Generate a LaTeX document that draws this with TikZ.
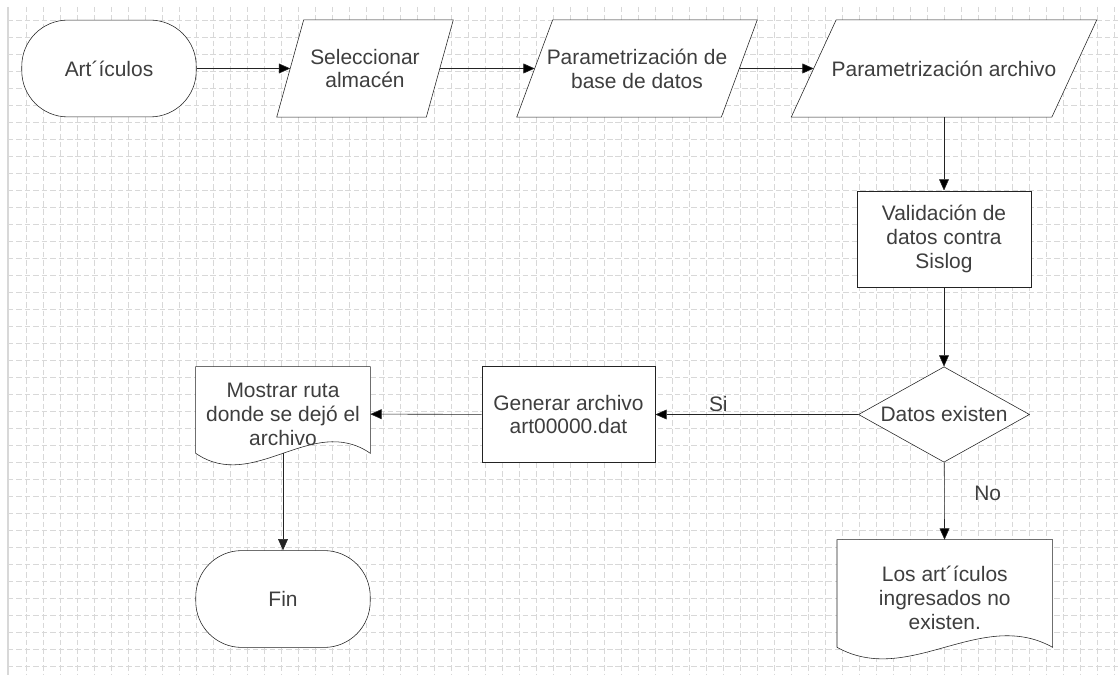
\documentclass[tikz,border=0pt]{standalone}
\usepackage{fontspec}
\setmainfont{Liberation Sans}
\usetikzlibrary{arrows.meta,shapes.geometric,calc}

\definecolor{gridgray}{RGB}{216,216,216}
\definecolor{inkgray}{RGB}{35,35,35}
\definecolor{textgray}{RGB}{62,62,62}

\pgfdeclarelayer{paper}
\pgfdeclarelayer{back}
\pgfsetlayers{paper,back,main}

% slanted outline behind an input/output node
\newcommand{\ioframe}[2]{%
  \begin{pgfonlayer}{back}
  \draw[shapeline] ([shift={(-#2,0)}]#1.south west) -- ([shift={(#2,0)}]#1.north west)
    -- ([shift={(#2,0)}]#1.north east) -- ([shift={(-#2,0)}]#1.south east) -- cycle;
  \end{pgfonlayer}}
% document outline with wavy bottom
\newcommand{\docframe}[1]{%
  \begin{pgfonlayer}{back}
  \draw[shapeline] (#1.north west) -- (#1.north east) -- ([shift={(0,-8)}]#1.south east)
    .. controls ($(#1.south east)!.333!(#1.south west)+(0,-48)$)
    and ($(#1.south east)!.667!(#1.south west)+(0,32)$) .. ([shift={(0,-8)}]#1.south west)
    -- cycle;
  \end{pgfonlayer}}

\begin{document}
\begin{tikzpicture}[x=0.025cm,y=-0.025cm,>={Triangle[length=8pt,width=7pt]},
        line width=1.15pt,
        every node/.style={font=\fontsize{14.9}{17}\selectfont,text=textgray},
        terminal/.style={draw=inkgray,fill=white,rounded corners=1.15cm,
          minimum width=4.36cm,minimum height=2.42cm,inner sep=0pt},
        iobox/.style={minimum height=2.42cm,inner sep=0pt,align=center},
        process/.style={draw=inkgray,fill=white,minimum width=4.35cm,
          minimum height=2.41cm,inner sep=0pt,align=center},
        decision/.style={diamond,draw=inkgray,fill=white,aspect=1.79,
          minimum width=4.275cm,minimum height=2.385cm,inner sep=0pt},
        docbox/.style={inner sep=0pt,align=center},
        shapeline/.style={draw=inkgray,fill=white},
        flow/.style={->,draw=inkgray},
        edgelabel/.style={inner sep=1.5pt},
        gridline/.style={draw=gridgray,line width=0.6pt,dash pattern=on 3.9pt off 2.1pt}]
        \useasboundingbox (0,0) rectangle (1118,675);
        \begin{pgfonlayer}{paper}
        \fill[white] (0,0) rectangle (1118,675);
        \foreach \gx in {26,43,...,1118}
          \draw[gridline] (\gx,7) -- (\gx,675);
        \foreach \gy in {20,37,...,675}
          \draw[gridline] (8,\gy) -- (1118,\gy);
        \draw[gridgray,line width=0.8pt] (8,7) -- (8,675);
        \end{pgfonlayer}

        % top row
        \node[terminal] (art) at (109,68.5) {Art´ículos};
        \node[iobox, minimum width=3.725cm] (sel) at (365,68.5) {Seleccionar\\almacén};
        \node[iobox, minimum width=5.1cm] (pbd) at (637,68.5) {Parametrización de\\base de datos};
        \node[iobox, minimum width=6.5cm] (par) at (944,68.5) {Parametrización archivo};
        \ioframe{sel}{13.5}
        \ioframe{pbd}{18}
        \ioframe{par}{22.5}

        % check and outputs
        \node[process] (val) at (944,239) {Validación de\\datos contra\\Sislog};
        \node[decision] (dec) at (944,414.5) {Datos existen};
        \node[process, minimum width=4.333cm] (gen) at (568.5,414.5) {Generar archivo\\art00000.dat};
        \node[docbox, minimum width=4.35cm, minimum height=2.35cm] (show) at (283,414) {Mostrar ruta\\donde se dejó el\\archivo};
        \node[terminal] (fin) at (283,599) {Fin};
        \node[docbox, minimum width=5.375cm, minimum height=2.875cm] (none) at (944.8,597.5) {Los art´ículos\\ingresados no\\existen.};
        \docframe{show}
        \docframe{none}

        \path[flow]
        (art) edge (sel)
        (sel) edge (pbd)
        (pbd) edge (par)
        (par) edge (val)
        (val) edge (dec)
        (dec) edge node[edgelabel, above, pos=0.69] {Si} (gen)
        (gen) edge (show)
        (dec) edge node[edgelabel, right=0.69cm, pos=0.4] {No} (none)
        ;
        \draw[flow] ([shift={(0,-8)}]show.south) -- (fin);
\end{tikzpicture}
\end{document}
